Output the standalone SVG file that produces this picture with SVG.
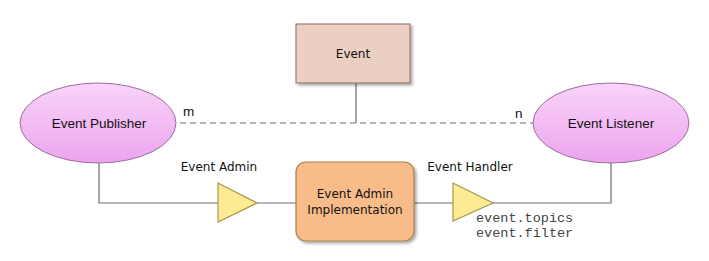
<svg xmlns="http://www.w3.org/2000/svg" width="709" height="261" viewBox="0 0 709 261">
<defs>
<linearGradient id="pink" x1="0" y1="0" x2="0" y2="1">
<stop offset="0" stop-color="#f9d4f9"/>
<stop offset="1" stop-color="#eca4ee"/>
</linearGradient>
<filter id="sh" x="-20%" y="-20%" width="150%" height="150%">
<feGaussianBlur in="SourceAlpha" stdDeviation="1.5"/>
<feOffset dx="2" dy="2"/>
<feComponentTransfer><feFuncA type="linear" slope="0.35"/></feComponentTransfer>
<feMerge><feMergeNode/><feMergeNode in="SourceGraphic"/></feMerge>
</filter>
</defs>
<style>
.ln{fill:none;stroke:#6e6e6e;stroke-width:1.2}
.dash{fill:none;stroke:#6e6e6e;stroke-width:1.2;stroke-dasharray:6,4}
.ell{fill:url(#pink);stroke:#9a6e9a;stroke-width:1}
.tri{fill:#fdeb94;stroke:#a89648;stroke-width:1.2}
.v{font-family:"DejaVu Sans",Verdana,sans-serif;font-size:12px;fill:#111}
.a{font-family:"Liberation Sans",Arial,sans-serif;font-size:13.5px;fill:#111}
.m{font-family:"Liberation Mono","Courier New",monospace;font-size:13.5px;fill:#444}
</style>
<g id="connectors">
<path class="ln" d="M356,83 V123"/>
<path class="dash" d="M180,123 H533"/>
<path class="ln" d="M99,162 V203 H218"/>
<path class="ln" d="M257,203 H296"/>
<path class="ln" d="M414,203 H453"/>
<path class="ln" d="M493,203 H611 V162"/>
<text class="a" x="183" y="116">m</text>
<text class="a" x="515" y="118">n</text>
</g>
<g id="event">
<rect x="296" y="24" width="114" height="59" fill="#ebcfc3" stroke="#8e6a5c" stroke-width="1" filter="url(#sh)"/>
<text class="v" x="353" y="58" text-anchor="middle">Event</text>
</g>
<g id="publisher">
<ellipse class="ell" cx="98" cy="123" rx="78" ry="40"/>
<text class="a" x="99" y="128" text-anchor="middle">Event Publisher</text>
</g>
<g id="listener">
<ellipse class="ell" cx="611" cy="123" rx="78" ry="40"/>
<text class="a" x="611" y="128" text-anchor="middle">Event Listener</text>
</g>
<g id="eventadmin">
<polygon class="tri" points="218,183 257,203 218,222"/>
<text class="v" x="219" y="171" text-anchor="middle">Event Admin</text>
</g>
<g id="implementation">
<rect x="296" y="162" width="118" height="79" rx="10" ry="10" fill="#f8bc8b" stroke="#a9814a" stroke-width="1.2" filter="url(#sh)"/>
<text class="v" x="355" y="198" text-anchor="middle">Event Admin</text>
<text class="v" x="355" y="214" text-anchor="middle">Implementation</text>
</g>
<g id="eventhandler">
<polygon class="tri" points="453,183 493,203 453,221"/>
<text class="v" x="470" y="171" text-anchor="middle">Event Handler</text>
<text class="m" x="476" y="222">event.topics</text>
<text class="m" x="476" y="237">event.filter</text>
</g>
</svg>
